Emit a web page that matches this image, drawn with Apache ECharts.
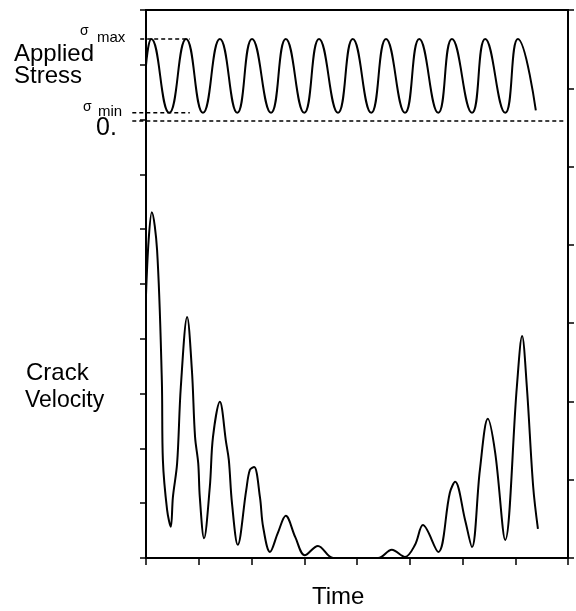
<!DOCTYPE html>
<html>
<head>
<meta charset="utf-8">
<script src="https://cdn.jsdelivr.net/npm/echarts@6/dist/echarts.min.js"></script>
<style>
html, body { margin: 0; background: #fff; }
#chart { width: 576px; height: 611px; }
</style>
</head>
<body>
<div id="chart"></div>
<script>
// time axis runs 0..8 (one unit per bottom tick)
var timeMin = 0, timeMax = 8;
// the stress panel reaches a little left of the frame so the dashed lines can stick out
var stressTimeMin = -0.2654;
// left axis 10 divisions, right axis 7 divisions
var leftDivisions = 10, rightDivisions = 7;

// applied stress, in units of sigma max (sigma min is about 0.1)
var stressTime = [0, 0.10, 0.44, 0.76, 1.08, 1.40, 1.73, 2.01, 2.37, 2.65, 3.00, 3.28, 3.64, 3.92, 4.27, 4.55, 4.91, 5.18, 5.54, 5.80, 6.18, 6.43, 6.81, 7.05, 7.39];
var stressValue = [0.68, 1, 0.1, 1, 0.1, 1, 0.1, 1, 0.1, 1, 0.1, 1, 0.1, 1, 0.1, 1, 0.1, 1, 0.1, 1, 0.1, 1, 0.1, 1, 0.13];
var sigmaMax = 1, sigmaMin = 0.1;

// crack velocity, in left-axis divisions
var velTime = [0, 0.05, 0.11, 0.21, 0.30, 0.32, 0.40, 0.47, 0.51, 0.59, 0.66, 0.78, 0.87, 0.93, 0.99, 1.02, 1.10, 1.21, 1.27, 1.40, 1.52, 1.57, 1.63, 1.74, 1.90, 1.97, 2.05, 2.16, 2.22, 2.35, 2.50, 2.65, 2.83, 3.01, 3.26, 3.55, 4.40, 4.66, 4.91, 5.10, 5.25, 5.54, 5.76, 5.86, 6.05, 6.18, 6.33, 6.48, 6.62, 6.81, 7.03, 7.13, 7.22, 7.34, 7.43];
var velValue = [4.80, 5.80, 6.31, 5.62, 3.25, 1.79, 0.88, 0.57, 1.11, 1.73, 3.12, 4.40, 3.43, 2.21, 1.73, 1.11, 0.36, 1.30, 2.21, 2.85, 2.10, 1.79, 1.00, 0.24, 1.24, 1.61, 1.66, 1.11, 0.57, 0.11, 0.46, 0.77, 0.38, 0.05, 0.22, 0, 0, 0.15, 0.02, 0.24, 0.60, 0.11, 1.19, 1.39, 0.69, 0.20, 1.61, 2.54, 1.92, 0.33, 3.12, 4.05, 3.12, 1.30, 0.53];

// dashed reference lines (time extents)
var maxLineTime = [-0.11, 0.83];
var minLineTime = [-0.26, 0.83];
var zeroLineTime = [-0.26, 7.96];

function pairs(xs, ys) {
  return xs.map(function (x, i) { return [x, ys[i]]; });
}

var font = '"Liberation Sans", Arial, sans-serif';
var dash = { color: '#000', width: 1.5, type: [4, 3] };

var chart = echarts.init(document.getElementById('chart'));
chart.setOption({
  animation: false,
  backgroundColor: '#fff',
  grid: [
    { left: 146, right: 8, top: 10, bottom: 53, show: true, borderColor: '#000', borderWidth: 2 },
    { left: 132, right: 8, top: 39, height: 82 }
  ],
  xAxis: [
    {
      gridIndex: 0, type: 'value', min: timeMin, max: timeMax, interval: 1,
      axisLine: { lineStyle: { color: '#000', width: 2 } },
      axisTick: { length: 7, lineStyle: { color: '#000', width: 1.5 } },
      axisLabel: { show: false },
      splitLine: { show: false }
    },
    { gridIndex: 1, type: 'value', min: stressTimeMin, max: timeMax, show: false }
  ],
  yAxis: [
    {
      gridIndex: 0, type: 'value', position: 'left', min: 0, max: leftDivisions, interval: 1,
      axisLine: { show: true, lineStyle: { color: '#000', width: 2 } },
      axisTick: { show: true, length: 6, lineStyle: { color: '#000', width: 1.5 } },
      axisLabel: { show: false },
      splitLine: { show: false }
    },
    {
      gridIndex: 0, type: 'value', position: 'right', min: 0, max: rightDivisions, interval: 1,
      axisLine: { show: true, lineStyle: { color: '#000', width: 2 } },
      axisTick: { show: true, length: 6, lineStyle: { color: '#000', width: 1.5 } },
      axisLabel: { show: false },
      splitLine: { show: false }
    },
    { gridIndex: 1, type: 'value', min: 0, max: 1, show: false }
  ],
  series: [
    {
      name: 'Crack Velocity', type: 'line', xAxisIndex: 0, yAxisIndex: 0,
      data: pairs(velTime, velValue), smooth: 0.35, symbol: 'none',
      lineStyle: { color: '#000', width: 2 }
    },
    {
      name: 'Applied Stress', type: 'line', xAxisIndex: 1, yAxisIndex: 2,
      data: pairs(stressTime, stressValue), smooth: 0.5, symbol: 'none', clip: false,
      lineStyle: { color: '#000', width: 2 }
    },
    {
      type: 'line', xAxisIndex: 1, yAxisIndex: 2, symbol: 'none', clip: false, silent: true,
      data: pairs(maxLineTime, [sigmaMax, sigmaMax]), lineStyle: dash
    },
    {
      type: 'line', xAxisIndex: 1, yAxisIndex: 2, symbol: 'none', clip: false, silent: true,
      data: pairs(minLineTime, [sigmaMin, sigmaMin]), lineStyle: dash
    },
    {
      type: 'line', xAxisIndex: 1, yAxisIndex: 2, symbol: 'none', clip: false, silent: true,
      data: pairs(zeroLineTime, [0, 0]), lineStyle: dash
    }
  ],
  graphic: [
    { type: 'text', x: 14, y: 54, style: { text: 'Applied', font: '24px ' + font, fill: '#000', verticalAlign: 'middle' } },
    { type: 'text', x: 14, y: 76, style: { text: 'Stress', font: '24px ' + font, fill: '#000', verticalAlign: 'middle' } },
    { type: 'text', x: 80, y: 31, style: { text: 'σ', font: '14px ' + font, fill: '#000', verticalAlign: 'middle' } },
    { type: 'text', x: 97, y: 38, style: { text: 'max', font: '15px ' + font, fill: '#000', verticalAlign: 'middle' } },
    { type: 'text', x: 83, y: 107, style: { text: 'σ', font: '14px ' + font, fill: '#000', verticalAlign: 'middle' } },
    { type: 'text', x: 98, y: 112, style: { text: 'min', font: '15px ' + font, fill: '#000', verticalAlign: 'middle' } },
    { type: 'text', x: 96, y: 128, style: { text: '0.', font: '25px ' + font, fill: '#000', verticalAlign: 'middle' } },
    { type: 'text', x: 26, y: 373, style: { text: 'Crack', font: '24px ' + font, fill: '#000', verticalAlign: 'middle' } },
    { type: 'text', x: 25, y: 401, style: { text: 'Velocity', font: '23px ' + font, fill: '#000', verticalAlign: 'middle' } },
    { type: 'text', x: 312, y: 597, style: { text: 'Time', font: '24px ' + font, fill: '#000', verticalAlign: 'middle' } }
  ]
});
</script>
</body>
</html>
